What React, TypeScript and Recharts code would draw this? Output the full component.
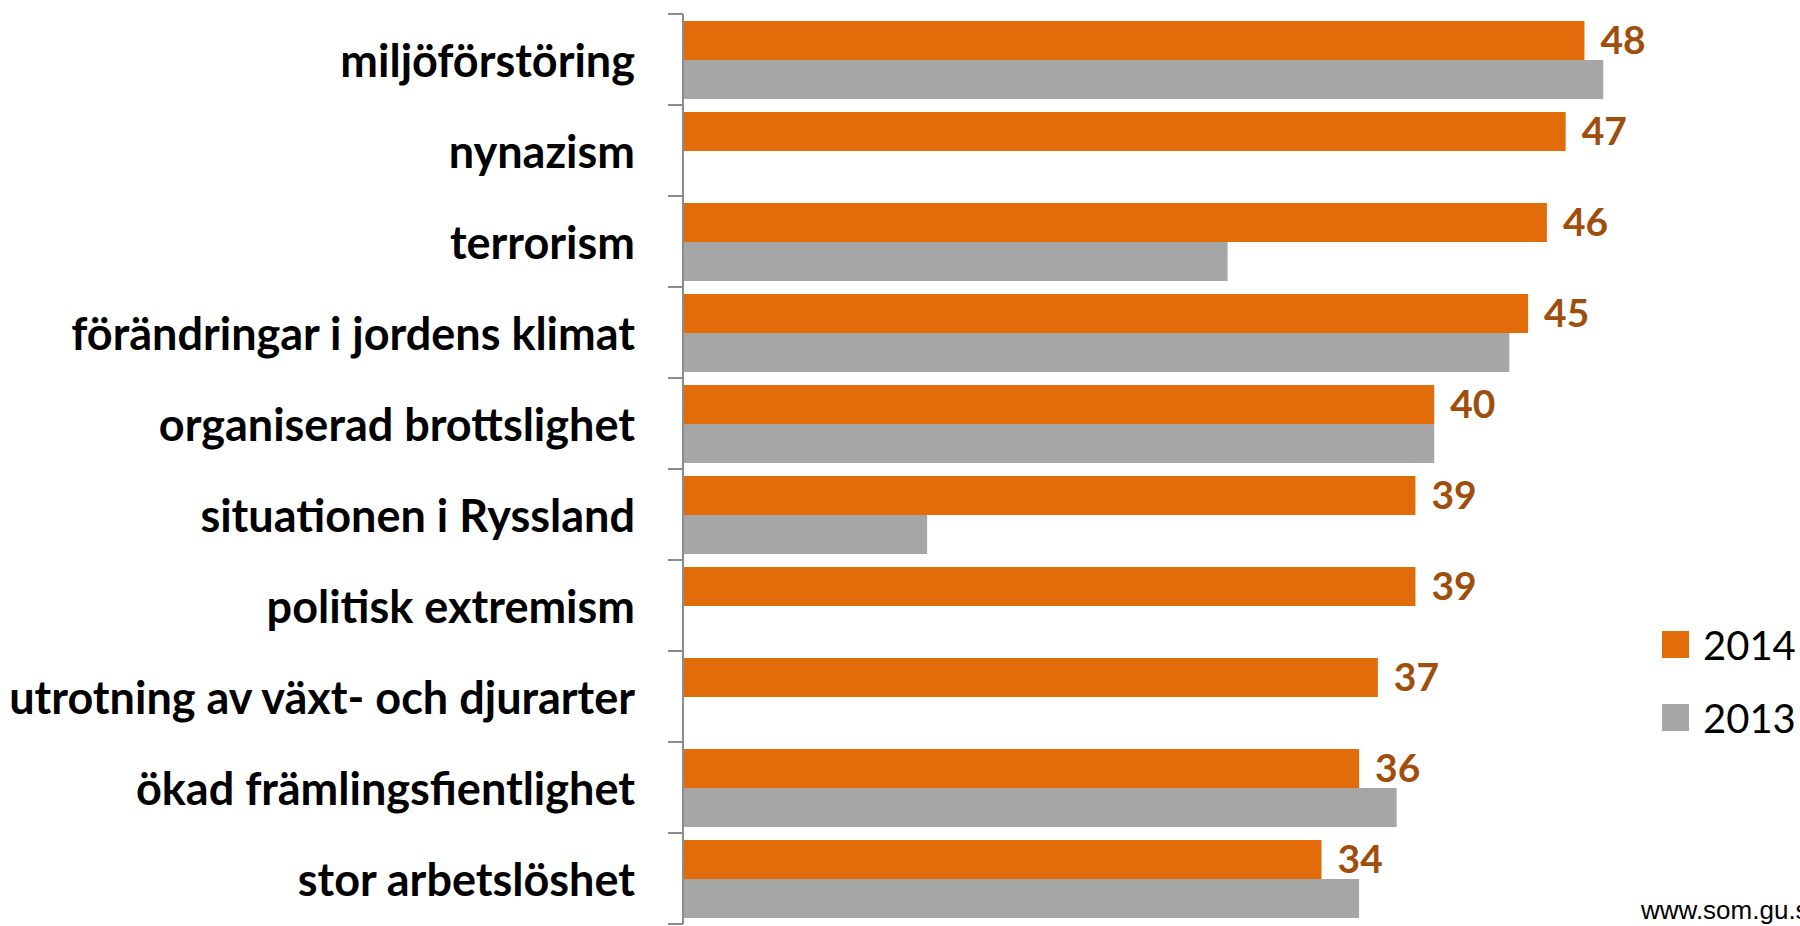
import React from 'react';
import { BarChart, Bar, XAxis, YAxis, LabelList } from 'recharts';

const categories = [
  'miljöförstöring',
  'nynazism',
  'terrorism',
  'förändringar i jordens klimat',
  'organiserad brottslighet',
  'situationen i Ryssland',
  'politisk extremism',
  'utrotning av växt- och djurarter',
  'ökad främlingsfientlighet',
  'stor arbetslöshet',
];
const values2014 = [48, 47, 46, 45, 40, 39, 39, 37, 36, 34];
const values2013: (number | null)[] = [49, null, 29, 44, 40, 13, null, null, 38, 36];
const seriesNames = ['2014', '2013'];
const seriesColors = ['#E36C0A', '#A6A6A6'];

const data = categories.map((c, i) => ({ name: c, v2014: values2014[i], v2013: values2013[i] }));

const FONT = 'Lato, "Open Sans", sans-serif';
const AXIS_COLOR = '#8C8C8C';
const TICK_SIZE = 6;
const TICK_MARGIN = 42;
const MARK_LEN = 15;

const CategoryTick = (props: any) => {
  const { x, y, payload, index } = props;
  const axisX = x + TICK_SIZE + TICK_MARGIN;
  const half = payload && payload.offset ? payload.offset : 0;
  const isLast = index === categories.length - 1;
  return (
    <g>
      <line x1={axisX - MARK_LEN} x2={axisX} y1={y - half} y2={y - half} stroke={AXIS_COLOR} strokeWidth={2} />
      {isLast && (
        <line x1={axisX - MARK_LEN} x2={axisX} y1={y + half} y2={y + half} stroke={AXIS_COLOR} strokeWidth={2} />
      )}
      <text
        x={x}
        y={y}
        textAnchor="end"
        dominantBaseline="central"
        fill="#000"
        fontSize={45}
        fontWeight={700}
        fontFamily={FONT}
      >
        {payload.value}
      </text>
    </g>
  );
};

export default function App() {
  return (
    <div style={{ position: 'absolute', left: 0, top: 0, width: 1800, height: 926, overflow: 'hidden', background: '#fff' }}>
      <BarChart
        width={1800}
        height={926}
        data={data}
        layout="vertical"
        margin={{ top: 14, right: 178, bottom: 2, left: 0 }}
        barCategoryGap={7}
        barGap={0}
      >
        <XAxis type="number" domain={[0, 50]} hide />
        <YAxis
          type="category"
          dataKey="name"
          width={683}
          tickLine={false}
          axisLine={{ stroke: AXIS_COLOR, strokeWidth: 2 }}
          tickSize={TICK_SIZE}
          tickMargin={TICK_MARGIN}
          tick={<CategoryTick />}
          interval={0}
        />
        <Bar dataKey="v2014" fill={seriesColors[0]} isAnimationActive={false}>
          <LabelList
            dataKey="v2014"
            position="right"
            offset={16}
            fill="#A04E0C"
            style={{ fontSize: 39, fontWeight: 700, fontFamily: FONT }}
          />
        </Bar>
        <Bar dataKey="v2013" fill={seriesColors[1]} isAnimationActive={false} />
      </BarChart>
      <div style={{ position: 'absolute', left: 1662, top: 608, fontFamily: FONT }}>
        {seriesNames.map((n, i) => (
          <div key={n} style={{ display: 'flex', alignItems: 'center', height: 73 }}>
            <div style={{ width: 27, height: 27, background: seriesColors[i], marginRight: 14 }} />
            <span style={{ fontSize: 40, color: '#000', lineHeight: '40px' }}>{n}</span>
          </div>
        ))}
      </div>
      <div style={{ position: 'absolute', left: 1641, top: 897, fontFamily: 'Arial, "Liberation Sans", sans-serif', fontSize: 26, lineHeight: '26px', color: '#000', whiteSpace: 'nowrap' }}>
        www.som.gu.se
      </div>
    </div>
  );
}
